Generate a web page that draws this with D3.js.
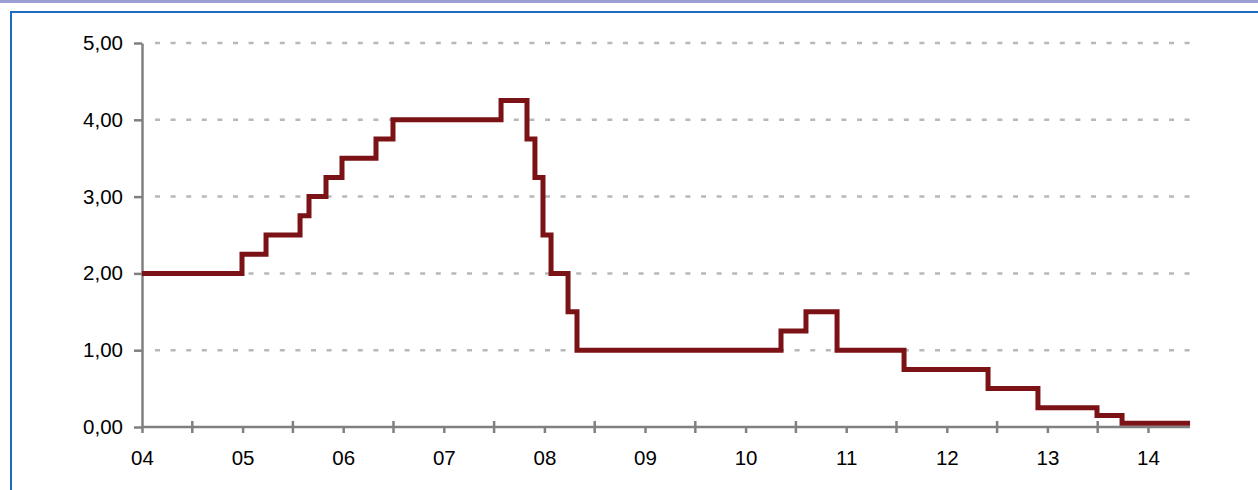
<!DOCTYPE html>
<html><head><meta charset="utf-8">
<script src="https://cdn.jsdelivr.net/npm/d3@7"></script>
<style>body{margin:0;background:#fff}svg{display:block;font-family:"Liberation Sans",Arial,sans-serif}</style>
</head><body>
<svg id="c" width="1258" height="490"></svg>
<script>
// Step dates (fractional year at which each rate starts) and rates (%)
const stepDates = [2004.0, 2004.994, 2005.233, 2005.571, 2005.66, 2005.829, 2005.988, 2006.326, 2006.495,
  2007.569, 2007.827, 2007.906, 2007.986, 2008.066, 2008.235, 2008.324, 2010.352, 2010.6, 2010.909,
  2011.575, 2012.41, 2012.906, 2013.493, 2013.742, 2014.418];
const rates = [2.00, 2.25, 2.50, 2.75, 3.00, 3.25, 3.50, 3.75, 4.00,
  4.25, 3.75, 3.25, 2.50, 2.00, 1.50, 1.00, 1.25, 1.50, 1.00,
  0.75, 0.50, 0.25, 0.15, 0.05, 0.05];
const yTicks = [0, 1, 2, 3, 4, 5];
const xYears = [2004, 2005, 2006, 2007, 2008, 2009, 2010, 2011, 2012, 2013, 2014];
const xLabels = ["04", "05", "06", "07", "08", "09", "10", "11", "12", "13", "14"];
const xMinor = [2004.5, 2005.5, 2006.5, 2007.5, 2008.5, 2009.5, 2010.5, 2011.5, 2012.5, 2013.5];

const svg = d3.select("#c");
// frame decoration
svg.append("rect").attr("x", 0).attr("y", 0).attr("width", 1258).attr("height", 3).attr("fill", "#9a9ed0");
svg.append("line").attr("x1", 10).attr("x2", 1258).attr("y1", 12).attr("y2", 12).attr("stroke", "#1c6cc4").attr("stroke-width", 2);
svg.append("line").attr("x1", 11).attr("x2", 11).attr("y1", 11).attr("y2", 490).attr("stroke", "#1c6cc4").attr("stroke-width", 2);

const x = d3.scaleLinear().domain([2004, 2014]).range([142, 1148]);
const y = d3.scaleLinear().domain([0, 5]).range([427, 43]);
const xEnd = x(stepDates[stepDates.length - 1]);

// grid
svg.append("g").selectAll("line").data(yTicks.filter(d => d > 0)).join("line")
  .attr("x1", 155).attr("x2", 1190).attr("y1", d => y(d)).attr("y2", d => y(d))
  .attr("stroke", "#b8b8b8").attr("stroke-width", 2.5).attr("stroke-dasharray", "5,10.6");

// y axis
const yAxis = d3.axisLeft(y).tickValues(yTicks).tickSize(8).tickSizeOuter(0)
  .tickFormat(d => d3.format(".2f")(d).replace(".", ","));
const gy = svg.append("g").attr("transform", "translate(142,0)").call(yAxis);
gy.select(".domain").attr("stroke", "#808080").attr("stroke-width", 2.5);
gy.selectAll(".tick line").attr("stroke", "#808080").attr("stroke-width", 2.5);
gy.selectAll("text").attr("font-size", 20.5).attr("fill", "#000").attr("x", -19)
  .attr("font-family", "Liberation Sans, Arial, sans-serif");

// x axis
const xAxis = d3.axisBottom(x).tickValues(xYears).tickSize(6).tickSizeOuter(0)
  .tickFormat((d, i) => xLabels[i]);
const gx = svg.append("g").attr("transform", "translate(0,427)").call(xAxis);
gx.select(".domain").attr("d", `M142,0H${xEnd}`).attr("stroke", "#808080").attr("stroke-width", 2.5);
gx.selectAll(".tick line").attr("stroke", "#808080").attr("stroke-width", 2.5);
gx.selectAll("text").attr("font-size", 20.5).attr("fill", "#000").attr("y", 38).attr("dy", 0)
  .attr("font-family", "Liberation Sans, Arial, sans-serif");
gx.append("g").selectAll("line").data(xMinor).join("line")
  .attr("x1", d => x(d)).attr("x2", d => x(d)).attr("y1", -6).attr("y2", 6)
  .attr("stroke", "#808080").attr("stroke-width", 2.5);

// step line
const line = d3.line().x((d, i) => x(stepDates[i])).y(d => y(d)).curve(d3.curveStepAfter);
svg.append("path").datum(rates).attr("d", line).attr("fill", "none")
  .attr("stroke", "#7b1216").attr("stroke-width", 5).attr("stroke-linejoin", "miter");
</script>
</body></html>
